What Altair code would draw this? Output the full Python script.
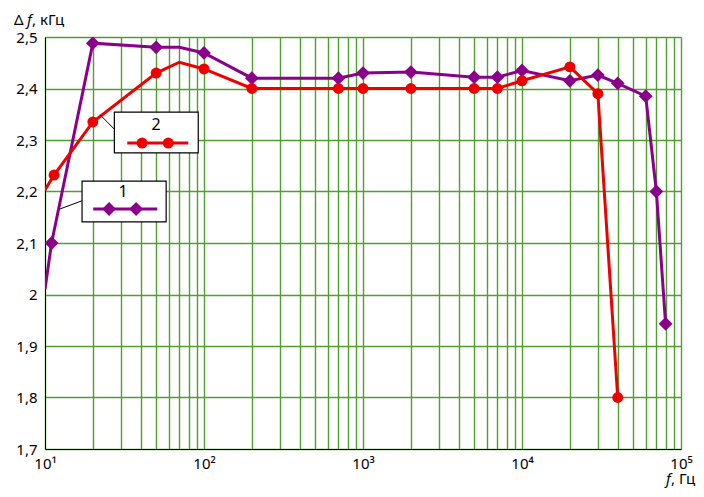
import altair as alt
import pandas as pd

# Series 1 (purple, diamonds)
f1 = [10, 11, 20, 50, 70, 100, 200, 700, 1000, 2000, 5000, 7000, 10000, 20000, 30000, 40000, 60000, 70000, 80000]
v1 = [2.01, 2.10, 2.488, 2.48, 2.48, 2.469, 2.42, 2.42, 2.43, 2.432, 2.422, 2.422, 2.435, 2.415, 2.426, 2.41, 2.385, 2.20, 1.943]
m1 = [0, 1, 1, 1, 0, 1, 1, 1, 1, 1, 1, 1, 1, 1, 1, 1, 1, 1, 1]

# Series 2 (red, circles)
f2 = [10, 11.4, 20, 50, 70, 100, 200, 700, 1000, 2000, 5000, 7000, 10000, 20000, 30000, 40000]
v2 = [2.203, 2.232, 2.335, 2.43, 2.451, 2.438, 2.40, 2.40, 2.40, 2.40, 2.40, 2.40, 2.415, 2.442, 2.39, 1.80]
m2 = [0, 1, 1, 1, 0, 1, 1, 1, 1, 1, 1, 1, 1, 1, 1, 1]

x_grid = [k * 10 ** d for d in range(1, 5) for k in range(1, 10)] + [100000]
y_ticks = [1.7, 1.8, 1.9, 2.0, 2.1, 2.2, 2.3, 2.4, 2.5]

# legend boxes (in data units)
box_x = [27.3, 17.1]
box_x2 = [92.0, 57.8]
box_y = [2.354, 2.220]
box_y2 = [2.275, 2.141]
box_lbl = ["2", "1"]
box_lbl_x = [50.0, 31.0]
box_lbl_y = [2.329, 2.199]
sample_x = [32.9, 20.1]
sample_x2 = [79.6, 50.8]
sample_y = [2.294, 2.166]
leader_x = [22.2, 12.4]
leader_x2 = [27.3, 17.1]
leader_y = [2.349, 2.166]
leader_y2 = [2.321, 2.182]
mk2_x = [40.8, 59.6]
mk1_x = [25.3, 37.4]

PURPLE = "#8b008b"
RED = "#ee0000"
GRID = "#4f9f2f"
FONT = "Noto Sans"

df1 = pd.DataFrame({"f": f1, "v": v1, "m": m1})
df2 = pd.DataFrame({"f": f2, "v": v2, "m": m2})

xs = alt.Scale(type="log", domain=[10, 100000], nice=False)
ys = alt.Scale(domain=[1.7, 2.5], nice=False, zero=False)

x_axis = alt.Axis(
    values=x_grid, ticks=False, tickSize=0, domain=True, domainColor="black",
    labelExpr="datum.value == 10 ? '10¹' : datum.value == 100 ? '10²' : datum.value == 1000 ? '10³' : datum.value == 10000 ? '10⁴' : datum.value == 100000 ? '10⁵' : ''",
    labelFontSize=15, labelPadding=7, labelFont=FONT, labelColor="black",
    gridColor=GRID, gridWidth=1.4, gridOpacity=1, title=None, labelFlush=False,
)
y_axis = alt.Axis(
    values=y_ticks, ticks=False, tickSize=0, domainColor="black",
    labelExpr="abs(datum.value - 2) < 0.001 ? '2' : replace(format(datum.value, '.1f'), '.', ',')",
    labelFontSize=15, labelPadding=8, labelFont=FONT, labelColor="black",
    gridColor=GRID, gridWidth=1.4, gridOpacity=1, title=None,
)

X = alt.X("f:Q", scale=xs, axis=x_axis)
Y = alt.Y("v:Q", scale=ys, axis=y_axis)

line1 = alt.Chart(df1).mark_line(color=PURPLE, strokeWidth=3, clip=True).encode(x=X, y=Y)
pts1 = alt.Chart(df1).transform_filter("datum.m == 1").mark_point(
    shape="diamond", filled=True, color=PURPLE, size=190, opacity=1, clip=True
).encode(x=X, y=Y)
line2 = alt.Chart(df2).mark_line(color=RED, strokeWidth=3, clip=True).encode(x=X, y=Y)
pts2 = alt.Chart(df2).transform_filter("datum.m == 1").mark_circle(
    color=RED, size=120, opacity=1, clip=True
).encode(x=X, y=Y)

leg = pd.DataFrame({
    "bx": box_x, "bx2": box_x2, "by": box_y, "by2": box_y2,
    "lbl": box_lbl, "lx": box_lbl_x, "ly": box_lbl_y,
    "sx": sample_x, "sx2": sample_x2, "sy": sample_y,
    "ldx": leader_x, "ldx2": leader_x2, "ldy": leader_y, "ldy2": leader_y2,
    "col": [RED, PURPLE],
})

leaders = alt.Chart(leg).mark_rule(color="black", strokeWidth=1).encode(
    x=alt.X("ldx:Q", scale=xs), x2="ldx2:Q", y=alt.Y("ldy:Q", scale=ys), y2="ldy2:Q")
boxes = alt.Chart(leg).mark_rect(fill="white", stroke="black", strokeWidth=1.2).encode(
    x=alt.X("bx:Q", scale=xs), x2="bx2:Q", y=alt.Y("by:Q", scale=ys), y2="by2:Q")
labels = alt.Chart(leg).mark_text(fontSize=16, font=FONT, color="black").encode(
    x=alt.X("lx:Q", scale=xs), y=alt.Y("ly:Q", scale=ys), text="lbl:N")
samples = alt.Chart(leg).mark_rule(strokeWidth=3).encode(
    x=alt.X("sx:Q", scale=xs), x2="sx2:Q", y=alt.Y("sy:Q", scale=ys),
    color=alt.Color("col:N", scale=None))

mk2 = pd.DataFrame({"x": mk2_x, "y": [sample_y[0]] * len(mk2_x)})
mk1 = pd.DataFrame({"x": mk1_x, "y": [sample_y[1]] * len(mk1_x)})
smk2 = alt.Chart(mk2).mark_circle(color=RED, size=120, opacity=1).encode(
    x=alt.X("x:Q", scale=xs), y=alt.Y("y:Q", scale=ys))
smk1 = alt.Chart(mk1).mark_point(shape="diamond", filled=True, color=PURPLE, size=190, opacity=1).encode(
    x=alt.X("x:Q", scale=xs), y=alt.Y("y:Q", scale=ys))

one = alt.Data(values=[{}])
t_delta = alt.Chart(one).mark_text(text="Δ", fontSize=15, font=FONT, align="left", baseline="alphabetic", color="black").encode(
    x=alt.value(-31), y=alt.value(-12))
t_f = alt.Chart(one).mark_text(text="f", fontSize=15, font=FONT, fontStyle="italic", align="left", baseline="alphabetic", color="black").encode(
    x=alt.value(-18), y=alt.value(-12))
t_unit = alt.Chart(one).mark_text(text=", кГц", fontSize=15, font=FONT, align="left", baseline="alphabetic", color="black").encode(
    x=alt.value(-13), y=alt.value(-12))
b_f = alt.Chart(one).mark_text(text="f", fontSize=15, font=FONT, fontStyle="italic", align="left", baseline="alphabetic", color="black").encode(
    x=alt.value(621), y=alt.value(447))
b_unit = alt.Chart(one).mark_text(text=", Гц", fontSize=15, font=FONT, align="left", baseline="alphabetic", color="black").encode(
    x=alt.value(626), y=alt.value(447))

chart = alt.layer(
    line1, line2, pts1, pts2, leaders, boxes, labels, samples, smk2, smk1,
    t_delta, t_f, t_unit, b_f, b_unit,
).properties(
    width=636, height=412,
    autosize=alt.AutoSizeParams(type="none"),
    padding={"left": 37, "top": 29, "right": 15, "bottom": 40},
).configure_view(
    fill="#fdf8d9", stroke="black", strokeWidth=1.5
).configure(background="white")

chart.save("out.html", embed_options={"renderer": "svg", "actions": False})
